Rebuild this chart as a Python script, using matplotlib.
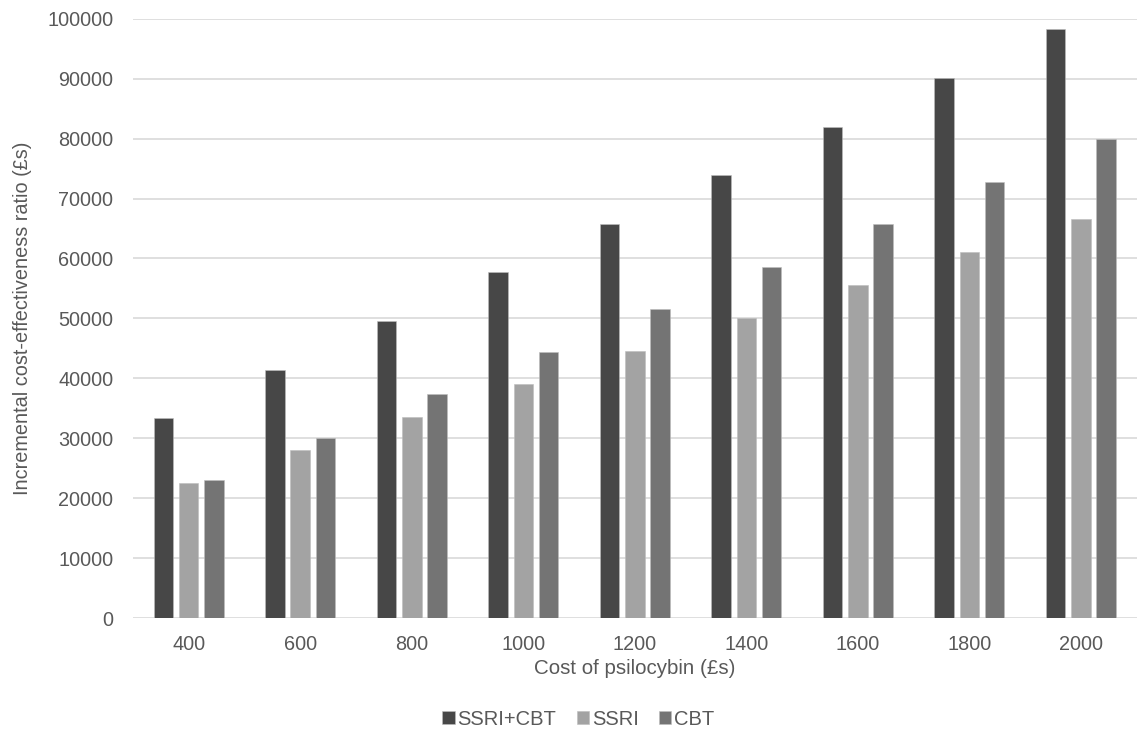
#!/usr/bin/env python3
"""ICER vs cost of psilocybin, grouped grey bars."""

import matplotlib as mpl
import matplotlib.pyplot as plt
import numpy as np

mpl.rcParams["font.family"] = ["Liberation Sans", "DejaVu Sans"]

# data
costs = ["400", "600", "800", "1000", "1200", "1400", "1600", "1800", "2000"]
ssri_cbt = [33300, 41400, 49600, 57700, 65800, 73900, 82000, 90150, 98250]
ssri = [22500, 28000, 33500, 39000, 44600, 50100, 55600, 61050, 66550]
cbt = [23000, 30100, 37300, 44400, 51500, 58600, 65700, 72800, 79950]

series = [("SSRI+CBT", ssri_cbt, "#474747"),
          ("SSRI", ssri, "#a3a3a3"),
          ("CBT", cbt, "#747474")]

C_TEXT = "#595959"
C_GRID = "#d9d9d9"

fig = plt.figure(figsize=(11.45, 7.5), dpi=100)
ax = fig.add_axes([0.1161, 0.176, 0.8766, 0.799])

x = np.arange(len(costs))
w = 0.175
step = 0.227
for i, (name, vals, col) in enumerate(series):
    ax.bar(x + (i - 1) * step, vals, width=w, color=col, label=name,
           edgecolor="#bdbdbd", linewidth=0.4, zorder=3)

ax.set_xlim(-0.5, len(costs) - 0.5)
ax.set_ylim(0, 100000)
ax.set_yticks(np.arange(0, 100001, 10000))
ax.set_xticks(x)
ax.set_xticklabels(costs)
ax.yaxis.grid(True, color=C_GRID, lw=1.2, zorder=0)
ax.set_axisbelow(True)
for s in ax.spines.values():
    s.set_visible(False)
ax.tick_params(length=0, labelsize=14.3, colors=C_TEXT)
ax.tick_params(axis="x", pad=12)
ax.tick_params(axis="y", pad=14)

ax.set_xlabel("Cost of psilocybin (£s)", fontsize=14.8, color=C_TEXT, labelpad=4)
ax.set_ylabel("Incremental cost-effectiveness ratio (£s)", fontsize=14.3,
              color=C_TEXT, labelpad=11)

fig.legend(loc="center", bbox_to_anchor=(0.505, 0.041), ncol=3, frameon=False,
           fontsize=14.5, labelcolor=C_TEXT, handlelength=0.6, handleheight=0.6,
           handletextpad=0.15, columnspacing=1.0)

fig.savefig("out.png", dpi=100)
